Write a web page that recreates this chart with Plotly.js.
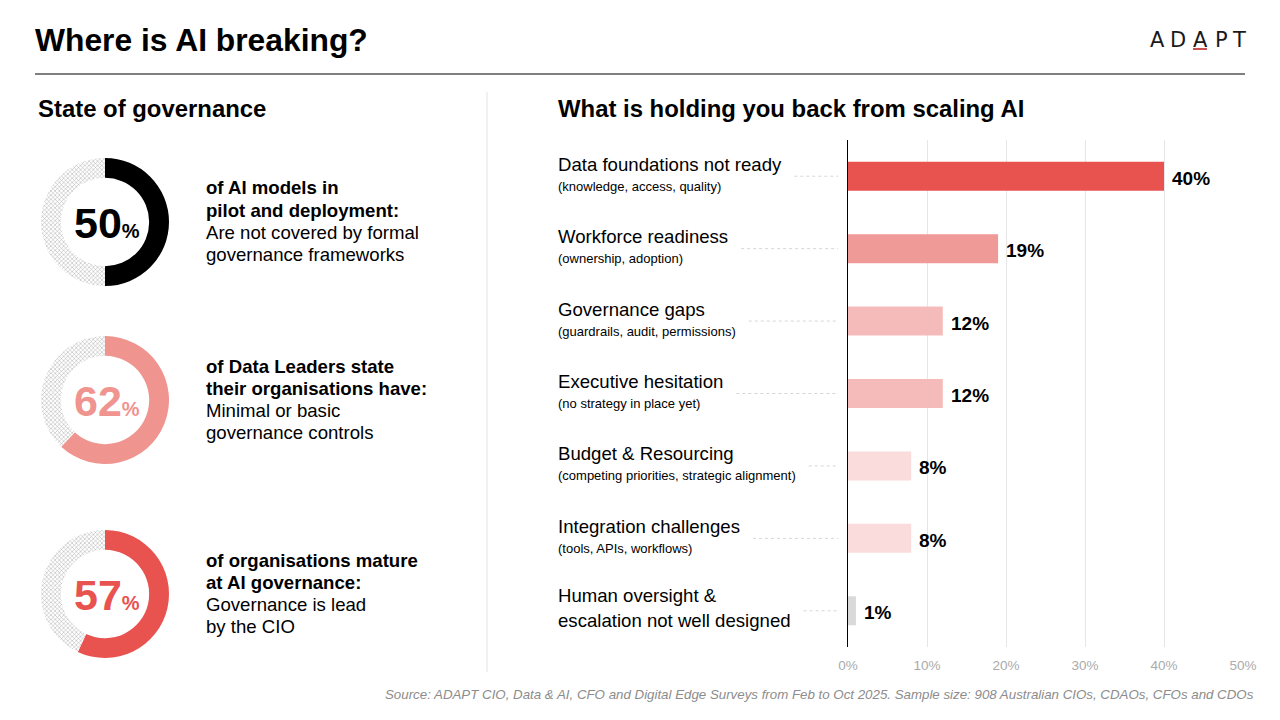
<!DOCTYPE html>
<html>
<head>
<meta charset="utf-8">
<script src="https://cdn.plot.ly/plotly-3.0.1.min.js"></script>
<style>
html,body{margin:0;padding:0;background:#fff;}
#chart{width:1280px;height:720px;}
</style>
</head>
<body>
<div id="chart"></div>
<script>
// ---------- DATA ----------
const categories = [
  "Data foundations not ready",
  "Workforce readiness",
  "Governance gaps",
  "Executive hesitation",
  "Budget & Resourcing",
  "Integration challenges",
  "Human oversight &<br>escalation not well designed"
];
const subLabels = [
  "(knowledge, access, quality)",
  "(ownership, adoption)",
  "(guardrails, audit, permissions)",
  "(no strategy in place yet)",
  "(competing priorities, strategic alignment)",
  "(tools, APIs, workflows)",
  ""
];
const values = [40, 19, 12, 12, 8, 8, 1];
const barColors = ["#E8534F", "#F09A97", "#F5BBBA", "#F5BBBA", "#FADCDC", "#FADCDC", "#D9D9D9"];
const xTicks = [0, 10, 20, 30, 40, 50];

const donutValues = [50, 62, 57];
const donutColors = ["#000000", "#F09490", "#E8534F"];
const donutBoldLines = [
  ["of AI models in", "pilot and deployment:"],
  ["of Data Leaders state", "their organisations have:"],
  ["of organisations mature", "at AI governance:"]
];
const donutPlainLines = [
  ["Are not covered by formal", "governance frameworks"],
  ["Minimal or basic", "governance controls"],
  ["Governance is lead", "by the CIO"]
];

// ---------- HELPERS ----------
const W = 1280, H = 720;
const px = x => x / W;
const py = y => 1 - y / H;
const FONT = "Liberation Sans, Arial, sans-serif";

const canvas = document.createElement("canvas");
const ctx = canvas.getContext("2d");
function textWidth(t, size) {
  ctx.font = size + "px 'Liberation Sans', Arial, sans-serif";
  return ctx.measureText(t).width;
}

const traces = [];
const annotations = [];
const shapes = [];

// ---------- DONUTS ----------
const donutCentersY = [222, 400, 594];
const R = 64;
donutValues.forEach((v, i) => {
  const cy = donutCentersY[i];
  traces.push({
    type: "pie",
    values: [v, 100 - v],
    sort: false,
    direction: "clockwise",
    rotation: 0,
    hole: 0.69,
    textinfo: "none",
    hoverinfo: "skip",
    showlegend: false,
    domain: {x: [px(105 - R), px(105 + R)], y: [py(cy + R), py(cy - R)]},
    marker: {
      colors: [donutColors[i], "#ffffff"],
      line: {width: 0},
      pattern: {shape: ["", "x"], fgcolor: "#a8a8a8", bgcolor: "#ffffff", size: 3, solidity: 0.3}
    }
  });
  annotations.push({
    xref: "paper", yref: "paper", x: px(107), y: py(cy + 1),
    xanchor: "center", yanchor: "middle", showarrow: false,
    text: "<b>" + v + "</b><span style='font-size:20px'><b>%</b></span>",
    font: {family: FONT, size: 43, color: donutColors[i]}
  });
  const lines = donutBoldLines[i].map(t => ({t, b: true})).concat(donutPlainLines[i].map(t => ({t, b: false})));
  lines.forEach((l, j) => {
    annotations.push({
      xref: "paper", yref: "paper", x: px(204), y: py(cy - 34 + j * 22.3),
      xanchor: "left", yanchor: "middle", showarrow: false,
      text: l.b ? "<b>" + l.t + "</b>" : l.t,
      font: {family: FONT, size: 18.6, color: "#000"}
    });
  });
});

// ---------- BAR CHART ----------
traces.push({
  type: "bar",
  orientation: "h",
  x: values,
  y: categories.map((c, i) => i),
  width: 0.4,
  marker: {color: barColors, line: {width: 0}},
  hoverinfo: "skip",
  showlegend: false,
  xaxis: "x", yaxis: "y"
});

const MAIN = 18.6, SUB = 13;
categories.forEach((c, i) => {
  annotations.push({
    xref: "x", yref: "y", x: values[i], y: i, xshift: 6, yshift: -2,
    xanchor: "left", yanchor: "middle", showarrow: false,
    text: "<b>" + values[i] + "%</b>",
    font: {family: FONT, size: 19, color: "#000"}
  });
  const parts = c.split("<br>");
  let maxW;
  if (subLabels[i]) {
    annotations.push({
      xref: "paper", yref: "y", x: px(556), y: i, yshift: 12,
      xanchor: "left", yanchor: "middle", showarrow: false,
      text: c, font: {family: FONT, size: MAIN, color: "#000"}
    });
    annotations.push({
      xref: "paper", yref: "y", x: px(556), y: i, yshift: -10,
      xanchor: "left", yanchor: "middle", showarrow: false,
      text: subLabels[i], font: {family: FONT, size: SUB, color: "#000"}
    });
    maxW = Math.max(textWidth(c, MAIN), textWidth(subLabels[i], SUB));
  } else {
    parts.forEach((p, j) => {
      annotations.push({
        xref: "paper", yref: "y", x: px(556), y: i, yshift: 15 - j * 25,
        xanchor: "left", yanchor: "middle", showarrow: false,
        text: p, font: {family: FONT, size: MAIN, color: "#000"}
      });
    });
    maxW = Math.max(...parts.map(p => textWidth(p, MAIN)));
  }
  shapes.push({
    type: "line", xref: "paper", yref: "y",
    x0: px(558 + maxW + 13), x1: px(838), y0: i, y1: i,
    line: {color: "#d6d6d6", width: 1, dash: "3px,3px"}
  });
});

// ---------- HEADERS / DECOR ----------
annotations.push(
  {xref: "paper", yref: "paper", x: px(33), y: py(40), xanchor: "left", yanchor: "middle", showarrow: false,
   text: "<b>Where is AI breaking?</b>", font: {family: FONT, size: 31.8, color: "#000"}},
  {xref: "paper", yref: "paper", x: px(36), y: py(108), xanchor: "left", yanchor: "middle", showarrow: false,
   text: "<b>State of governance</b>", font: {family: FONT, size: 23.9, color: "#000"}},
  {xref: "paper", yref: "paper", x: px(556), y: py(108), xanchor: "left", yanchor: "middle", showarrow: false,
   text: "<b>What is holding you back from scaling AI</b>", font: {family: FONT, size: 23.9, color: "#000"}},
  {xref: "paper", yref: "paper", x: px(1256), y: py(694), xanchor: "right", yanchor: "middle", showarrow: false,
   text: "<i>Source: ADAPT CIO, Data & AI, CFO and Digital Edge Surveys from Feb to Oct 2025. Sample size: 908 Australian CIOs, CDAOs, CFOs and CDOs</i>",
   font: {family: FONT, size: 13.3, color: "#8c8c8c"}}
);

// Logo letters
const logoLetters = ["A", "D", "A", "P", "T"];
const logoX = [1157, 1178, 1200, 1221, 1239];
logoLetters.forEach((l, i) => {
  annotations.push({xref: "paper", yref: "paper", x: px(logoX[i]), y: py(40), xanchor: "center", yanchor: "middle",
    showarrow: false, text: l, font: {family: "DejaVu Sans, sans-serif", size: 21, color: "#1a1a1a"}});
});
shapes.push(
  {type: "line", xref: "paper", yref: "paper", x0: px(1193), x1: px(1207), y0: py(49), y1: py(49),
   line: {color: "#C9524E", width: 2}},
  {type: "line", xref: "paper", yref: "paper", x0: px(35), x1: px(1245), y0: py(74), y1: py(74),
   line: {color: "#000", width: 1}},
  {type: "line", xref: "paper", yref: "paper", x0: px(487), x1: px(487), y0: py(92), y1: py(672),
   line: {color: "#e3e3e3", width: 1}}
);

const layout = {
  width: W, height: H,
  margin: {l: 0, r: 0, t: 0, b: 0},
  paper_bgcolor: "#fff", plot_bgcolor: "#fff",
  font: {family: FONT},
  showlegend: false,
  xaxis: {
    domain: [px(848), px(1243)],
    range: [0, 50],
    tickvals: xTicks,
    ticktext: xTicks.map(t => t + "%"),
    showgrid: true, gridcolor: "#e6e6e6", gridwidth: 1,
    zeroline: false, showline: false, ticks: "",
    tickfont: {family: FONT, size: 13.5, color: "#aaaaaa"},
    ticklabelstandoff: 8,
    fixedrange: true
  },
  yaxis: {
    domain: [py(647), py(140)],
    range: [6.5, -0.5],
    showticklabels: false, showgrid: false, zeroline: false,
    showline: true, linecolor: "#000", linewidth: 1.5, ticks: "",
    fixedrange: true
  },
  annotations, shapes
};

Plotly.newPlot("chart", traces, layout, {displayModeBar: false, staticPlot: true});
</script>
</body>
</html>
